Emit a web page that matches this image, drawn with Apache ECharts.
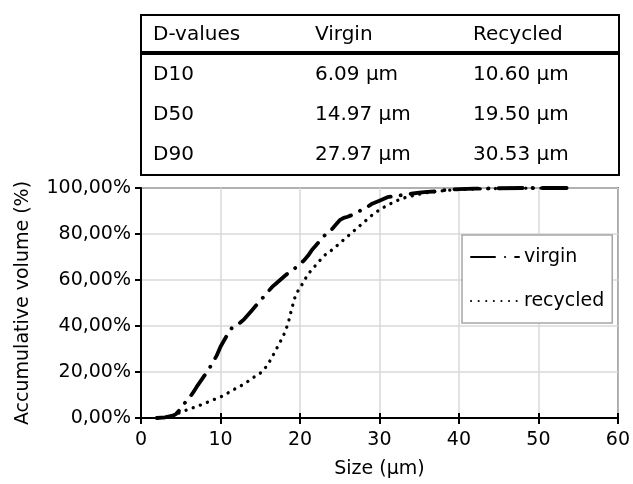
<!DOCTYPE html>
<html>
<head>
<meta charset="utf-8">
<script src="https://cdn.jsdelivr.net/npm/echarts@6/dist/echarts.min.js"></script>
<style>
html,body{margin:0;padding:0;background:#fff;}
#c{width:633px;height:484px;}
</style>
</head>
<body>
<div id="c"></div>
<script>
// Table content
const tableHeader = ['D-values', 'Virgin', 'Recycled'];
const tableRows = [
  ['D10', '6.09 µm', '10.60 µm'],
  ['D50', '14.97 µm', '19.50 µm'],
  ['D90', '27.97 µm', '30.53 µm']
];

// Series data (size in µm, accumulative volume in %)
const virginX = [2.0,3.0,4.0,4.4,5.0,5.5,6.0,6.5,7.0,7.5,8.0,8.5,9.0,9.5,10.0,10.5,11.0,11.5,12.0,12.5,13.0,13.5,14.0,14.5,15.0,15.5,16.0,16.5,17.0,17.5,18.0,18.5,19.0,19.5,20.0,20.5,21.0,21.5,22.0,22.5,23.0,23.5,24.0,24.5,25.0,25.5,26.0,26.5,27.0,27.5,28.0,28.5,29.0,30.0,31.0,32.0,33.0,34.0,35.0,36.0,37.0,38.0,39.0,40.0,42.0,45.0,48.0,51.0,54.0];
const virginY = [0,0.3,1.0,1.7,4.0,6.5,8.5,10.8,13.5,16,18.5,21,24,27,31,34,37,39.5,40.5,41.5,43,45,47,49,51,53,55,57,58.5,60,61.5,63,64,65.5,67,68.5,70.5,73,75,77,79,81,82,84,86,87,87.5,88.2,89,90,91,91.8,93,94.5,96,96.5,97,97.5,98,98.3,98.5,99,99.3,99.5,99.7,99.9,100,100,100];
const recycledX = [2.0,3.0,4.0,5.0,6.0,7.0,8.0,9.0,10.0,11.0,12.0,13.0,14.0,15.0,15.5,16.0,16.5,17.0,17.5,18.0,18.5,19.0,19.5,20.0,21.0,22.0,23.0,24.0,25.0,26.0,27.0,28.0,29.0,30.0,31.0,32.0,33.0,34.0,35.0,36.0,37.0,38.0,39.0,40.0,42.0,45.0,48.0,51.0,54.0];
const recycledY = [0,0.2,1.0,2.5,3.8,5,6.3,7.8,9.1,11,13,14.8,17.3,19.5,21.2,23.5,26.5,29.8,33,36.5,41,48,54,56.5,62.5,66.5,70.5,73,76,79,82,85,88,90.5,92.5,94.2,95.6,96.5,97.3,98,98.4,98.8,99.1,99.3,99.6,99.8,99.9,100,100];

const xTicks = [0,10,20,30,40,50,60];
const seriesNames = ['virgin', 'recycled'];

const FONT = 'DejaVu Sans';
const chart = echarts.init(document.getElementById('c'), null, {renderer: 'canvas'});

// Build table graphics
const colX = [153, 315, 473];
const rowY = [35, 75, 115, 155];
const tableGraphics = [];
tableGraphics.push({type:'rect', shape:{x:141, y:15, width:478, height:160}, style:{fill:'#fff', stroke:'#000', lineWidth:2}});
tableGraphics.push({type:'line', shape:{x1:141, y1:53, x2:619, y2:53}, style:{stroke:'#000', lineWidth:4}});
[tableHeader].concat(tableRows).forEach((row, r) => {
  row.forEach((txt, c) => {
    tableGraphics.push({type:'text', x:colX[c], y:rowY[r], style:{text:txt, fill:'#000', font:'20px "' + FONT + '"', textVerticalAlign:'middle', textAlign:'left'}});
  });
});

const zip = (xs, ys) => xs.map((x, i) => [x, ys[i]]);

const option = {
  animation: false,
  backgroundColor: '#fff',
  textStyle: {fontFamily: FONT},
  grid: {left:141, right:14, top:188, bottom:66, show:true, borderColor:'#000', borderWidth:1.5, backgroundColor:'transparent'},
  legend: {
    data: seriesNames,
    orient: 'vertical',
    left: 462, top: 235,
    padding: [12, 8, 12, 8],
    itemWidth: 48, itemHeight: 14, itemGap: 24,
    backgroundColor: '#fff',
    borderColor: '#a6a6a6', borderWidth: 1.5,
    itemStyle: {color: 'rgba(0,0,0,0)', borderWidth: 0, opacity: 0},
    textStyle: {fontFamily: FONT, fontSize: 19, color:'#000', lineHeight: 20}
  },
  xAxis: [{
    type: 'value', min: 0, max: 60, interval: 10,
    name: 'Size (µm)', nameLocation: 'middle', nameGap: 42,
    nameTextStyle: {fontFamily: FONT, fontSize: 19, color:'#000'},
    axisLine: {show:true, onZero:false, lineStyle:{color:'#000', width:2}},
    axisTick: {show:true, length:6, lineStyle:{color:'#000', width:2}},
    axisLabel: {fontFamily: FONT, fontSize: 19, color:'#000', margin: 13,
      customValues: xTicks},
    splitLine: {show:true, lineStyle:{color:'#d9d9d9', width:1.5}}
  },{
    type: 'value', min: 0, max: 60, interval: 10, position:'bottom',
    axisLine: {show:false},
    axisTick: {show:true, inside:true, length:5, lineStyle:{color:'#000', width:2}},
    axisLabel: {show:false},
    splitLine: {show:false}
  }],
  yAxis: {
    type: 'value', min: 0, max: 100, interval: 20,
    name: 'Accumulative volume (%)', nameLocation: 'middle', nameGap: 108,
    nameTextStyle: {fontFamily: FONT, fontSize: 19, color:'#000'},
    axisLine: {show:true, onZero:false, lineStyle:{color:'#000', width:2}},
    axisTick: {show:true, length:6, lineStyle:{color:'#000', width:2}},
    axisLabel: {fontFamily: FONT, fontSize: 19, color:'#000', margin: 10,
      formatter: v => v + ',00%'},
    splitLine: {show:true, lineStyle:{color:'#d9d9d9', width:1.5}}
  },
  series: [{
    name: seriesNames[0], type: 'line', data: zip(virginX, virginY),
    showSymbol: false, symbol: 'none',
    lineStyle: {color:'#000', width:3.8, type:[24, 10, 0.1, 10], cap:'round', join:'round'},
    itemStyle: {color:'#000'}
  },{
    name: seriesNames[1], type: 'line', data: zip(recycledX, recycledY),
    showSymbol: false, symbol: 'none',
    lineStyle: {color:'#000', width:3.3, type:[0.1, 7.5], cap:'round', join:'round'},
    itemStyle: {color:'#000'}
  }],
  graphic: tableGraphics
};
chart.setOption(option);
</script>
</body>
</html>
